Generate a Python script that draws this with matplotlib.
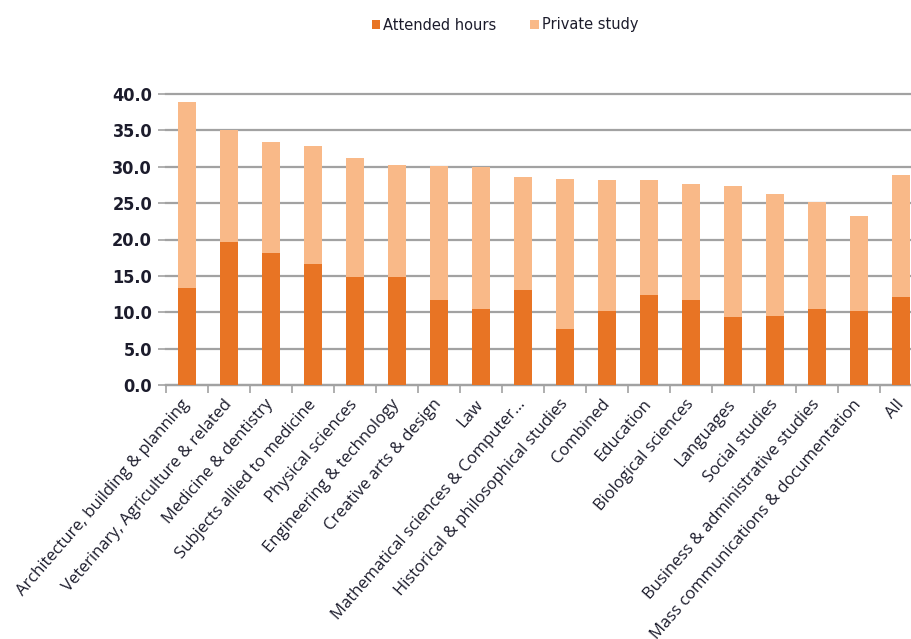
import matplotlib.pyplot as plt
import numpy as np

# subjects, left to right
subjects = ['Architecture, building & planning', 'Veterinary, Agriculture & related',
            'Medicine & dentistry', 'Subjects allied to medicine', 'Physical sciences',
            'Engineering & technology', 'Creative arts & design', 'Law',
            'Mathematical sciences & Computer...', 'Historical & philosophical studies',
            'Combined', 'Education', 'Biological sciences', 'Languages', 'Social studies',
            'Business & administrative studies', 'Mass communications & documentation', 'All']
# hours per week
attended = [13.3, 19.7, 18.1, 16.6, 14.8, 14.8, 11.7, 10.4, 13.1, 7.7,
            10.2, 12.4, 11.7, 9.3, 9.5, 10.4, 10.2, 12.1]
total = [38.9, 35.1, 33.4, 32.8, 31.2, 30.2, 30.1, 29.9, 28.6, 28.3,
         28.2, 28.2, 27.6, 27.4, 26.2, 25.1, 23.2, 28.9]
private = [t - a for t, a in zip(total, attended)]

dark = '#E87424'
light = '#F9B988'
txt = '#1c1c2c'

fig = plt.figure(figsize=(9.12, 6.39), dpi=100)
# axes runs a bit past the right edge, like the cropped original
ax = fig.add_axes([166/912, 1-385/639, 756/912, 291/639])

x = np.arange(len(subjects))
ax.bar(x, attended, width=0.41, color=dark, label='Attended hours', zorder=3)
ax.bar(x, private, width=0.41, bottom=attended, color=light, label='Private study', zorder=3)

ax.set_xlim(-0.5, len(subjects) - 0.5)
ax.set_ylim(0, 40)
ax.set_yticks(np.arange(0, 41, 5))
ax.set_yticklabels(['%.1f' % v for v in np.arange(0, 41, 5)], fontsize=13,
                   fontweight='bold', color=txt, fontstretch='condensed')
ax.yaxis.grid(True, color='#a2a2a2', linewidth=1.6, zorder=0)
for gl in ax.get_ygridlines():
    gl.set_clip_on(False)
ax.tick_params(axis='y', length=6, color='#a2a2a2', width=1.2, pad=4)

for s in ['top', 'right', 'left']:
    ax.spines[s].set_visible(False)
ax.spines['bottom'].set_color('#a2a2a2')
ax.spines['bottom'].set_linewidth(1.6)

# ticks between categories, labels at centres
ax.set_xticks(np.arange(-0.5, len(subjects), 1))
ax.set_xticklabels([])
ax.tick_params(axis='x', which='major', length=6, color='#a2a2a2', width=1.2)
ax.set_xticks(x, minor=True)
ax.set_xticklabels(subjects, minor=True, rotation=49, ha='right', va='center',
                   rotation_mode='anchor', fontsize=12, color=txt, family='Open Sans')
ax.tick_params(axis='x', which='minor', length=0, pad=12)

fig.legend(loc='center', bbox_to_anchor=(505/912, 1-25/639), ncol=2, frameon=False,
           fontsize=10.5, handlelength=0.6, handleheight=0.6, handletextpad=0.2,
           columnspacing=2.3, labelcolor=txt)

fig.savefig('out.png', dpi=100)
